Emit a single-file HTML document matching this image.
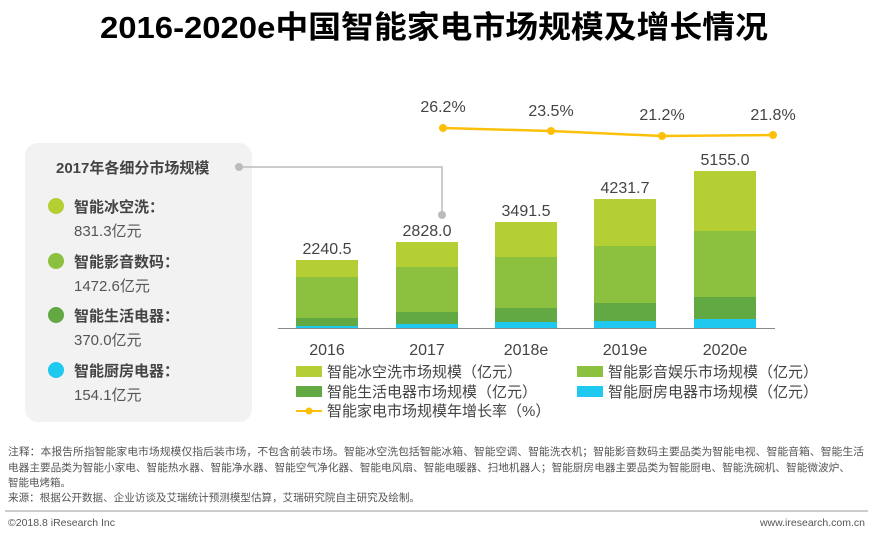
<!DOCTYPE html>
<html><head><meta charset="utf-8"><style>
body{margin:0;background:#fff;width:873px;height:535px;overflow:hidden}
svg{display:block}
text{font-family:"Liberation Sans","Noto Sans CJK SC",sans-serif}
</style></head><body>
<svg width="873" height="535" viewBox="0 0 873 535">
<text x="434" y="38" text-anchor="middle" font-size="31" font-weight="bold" fill="#000" textLength="668" lengthAdjust="spacingAndGlyphs">2016-2020e中国智能家电市场规模及增长情况</text>
<rect x="25" y="143" width="227" height="279" rx="13" fill="#f2f2f2"/>
<text x="56" y="173" font-size="15" font-weight="bold" fill="#444">2017年各细分市场规模</text>
<polyline points="239,167 442,167 442,215" fill="none" stroke="#bbb" stroke-width="1.5"/>
<circle cx="239" cy="167" r="4" fill="#bbb"/><circle cx="442" cy="215" r="4" fill="#bbb"/>
<g font-size="15" fill="#444">
<circle cx="56" cy="206" r="8" fill="#b3cf34"/><text x="74" y="212" font-weight="bold">智能冰空洗：</text><text x="74" y="236" fill="#555">831.3亿元</text>
<circle cx="56" cy="261" r="8" fill="#8bc13f"/><text x="74" y="267" font-weight="bold">智能影音数码：</text><text x="74" y="291" fill="#555">1472.6亿元</text>
<circle cx="56" cy="315" r="8" fill="#62a843"/><text x="74" y="321" font-weight="bold">智能生活电器：</text><text x="74" y="345" fill="#555">370.0亿元</text>
<circle cx="56" cy="370" r="8" fill="#1ec8ef"/><text x="74" y="376" font-weight="bold">智能厨房电器：</text><text x="74" y="400" fill="#555">154.1亿元</text>
</g>
<g>
<rect x="296" y="260" width="62" height="17" fill="#b3cf34"/><rect x="296" y="277" width="62" height="41" fill="#8bc13f"/><rect x="296" y="318" width="62" height="8" fill="#62a843"/><rect x="296" y="326" width="62" height="2" fill="#1ec8ef"/>
<rect x="396" y="242" width="62" height="25" fill="#b3cf34"/><rect x="396" y="267" width="62" height="45" fill="#8bc13f"/><rect x="396" y="312" width="62" height="12" fill="#62a843"/><rect x="396" y="324" width="62" height="4" fill="#1ec8ef"/>
<rect x="495" y="222" width="62" height="35" fill="#b3cf34"/><rect x="495" y="257" width="62" height="51" fill="#8bc13f"/><rect x="495" y="308" width="62" height="14" fill="#62a843"/><rect x="495" y="322" width="62" height="6" fill="#1ec8ef"/>
<rect x="594" y="199" width="62" height="47" fill="#b3cf34"/><rect x="594" y="246" width="62" height="57" fill="#8bc13f"/><rect x="594" y="303" width="62" height="18" fill="#62a843"/><rect x="594" y="321" width="62" height="7" fill="#1ec8ef"/>
<rect x="694" y="171" width="62" height="60" fill="#b3cf34"/><rect x="694" y="231" width="62" height="66" fill="#8bc13f"/><rect x="694" y="297" width="62" height="22" fill="#62a843"/><rect x="694" y="319" width="62" height="9" fill="#1ec8ef"/>
</g>
<line x1="278" y1="328.5" x2="775" y2="328.5" stroke="#888" stroke-width="1"/>
<g font-size="16" fill="#444" text-anchor="middle">
<text x="327" y="254">2240.5</text><text x="427" y="236">2828.0</text><text x="526" y="216">3491.5</text><text x="625" y="193">4231.7</text><text x="725" y="165">5155.0</text>
<text x="327" y="355">2016</text><text x="427" y="355">2017</text><text x="526" y="355">2018e</text><text x="625" y="355">2019e</text><text x="725" y="355">2020e</text>
<text x="443" y="112">26.2%</text><text x="551" y="116">23.5%</text><text x="662" y="120">21.2%</text><text x="773" y="120">21.8%</text>
</g>
<polyline points="443,128 551,131 662,136 773,135" fill="none" stroke="#fcc00a" stroke-width="2.5"/>
<g fill="#fcc00a"><circle cx="443" cy="128" r="4"/><circle cx="551" cy="131" r="4"/><circle cx="662" cy="136" r="4"/><circle cx="773" cy="135" r="4"/></g>
<g font-size="15" fill="#444">
<rect x="296" y="366" width="26" height="11" fill="#b3cf34"/><text x="327" y="377">智能冰空洗市场规模（亿元）</text>
<rect x="577" y="366" width="26" height="11" fill="#8bc13f"/><text x="608" y="377">智能影音娱乐市场规模（亿元）</text>
<rect x="296" y="386" width="26" height="11" fill="#62a843"/><text x="327" y="397">智能生活电器市场规模（亿元）</text>
<rect x="577" y="386" width="26" height="11" fill="#1ec8ef"/><text x="608" y="397">智能厨房电器市场规模（亿元）</text>
<line x1="296" y1="411" x2="322" y2="411" stroke="#fcc00a" stroke-width="2"/><circle cx="309" cy="411" r="3.5" fill="#fcc00a"/><text x="327" y="416">智能家电市场规模年增长率（%）</text>
</g>
<g font-size="10.5" fill="#555">
<text x="8" y="455" textLength="856" lengthAdjust="spacingAndGlyphs">注释：本报告所指智能家电市场规模仅指后装市场，不包含前装市场。智能冰空洗包括智能冰箱、智能空调、智能洗衣机；智能影音数码主要品类为智能电视、智能音箱、智能生活</text>
<text x="8" y="471" textLength="842" lengthAdjust="spacingAndGlyphs">电器主要品类为智能小家电、智能热水器、智能净水器、智能空气净化器、智能电风扇、智能电暖器、扫地机器人；智能厨房电器主要品类为智能厨电、智能洗碗机、智能微波炉、</text>
<text x="8" y="486">智能电烤箱。</text>
<text x="8" y="501" textLength="412" lengthAdjust="spacingAndGlyphs">来源：根据公开数据、企业访谈及艾瑞统计预测模型估算，艾瑞研究院自主研究及绘制。</text>
<text x="8" y="526">©2018.8 iResearch Inc</text>
<text x="865" y="526" text-anchor="end">www.iresearch.com.cn</text>
</g>
<line x1="5" y1="511" x2="868" y2="511" stroke="#999" stroke-width="1"/>
</svg>
</body></html>
